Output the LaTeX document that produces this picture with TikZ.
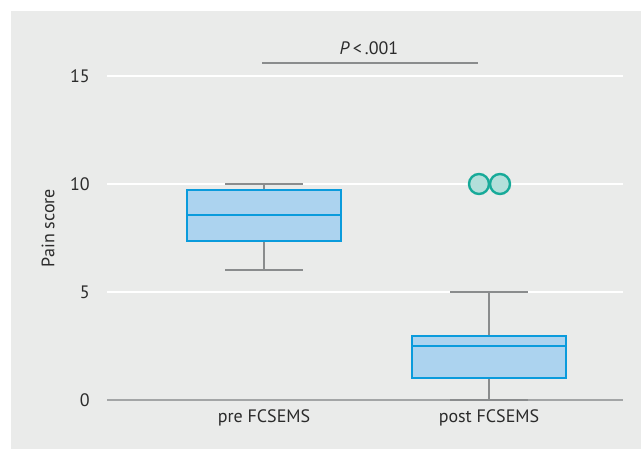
\documentclass[tikz,border=0pt]{standalone}
\usepackage{fontspec}
\setmainfont{PT Sans}
\definecolor{bggray}{HTML}{EAEBEA}
\definecolor{boxblue}{HTML}{0A9BDC}
\definecolor{boxfill}{HTML}{ACD3EF}
\definecolor{whiskgray}{HTML}{8A8C8D}
\definecolor{axisgray}{HTML}{A3A5A6}
\definecolor{tealline}{HTML}{17AA99}
\definecolor{tealfill}{HTML}{B3DFDA}
\definecolor{txtgray}{HTML}{2B2B2B}
\begin{document}
\begin{tikzpicture}[x=1pt,y=-1pt,
  gridln/.style={draw=white, line width=2pt},
  zeroln/.style={draw=axisgray, line width=2pt},
  whisk/.style={draw=whiskgray, line width=2.2pt},
  boxst/.style={draw=boxblue, fill=boxfill, line width=2.4pt},
  medst/.style={draw=boxblue, line width=2.8pt},
  outl/.style={draw=tealline, fill=tealfill, line width=2.4pt},
  plinest/.style={draw=whiskgray, line width=2.8pt},
  lab/.style={font=\fontsize{18}{21}\selectfont, text=txtgray, inner sep=0pt}]
\useasboundingbox (0,0) rectangle (641,449);
\fill[bggray] (11,11) rectangle (641,449);
% gridlines
\draw[gridln] (107,76) -- (623,76);
\draw[gridln] (107,184) -- (623,184);
\draw[gridln] (107,292) -- (623,292);
\draw[zeroln] (107,400) -- (623,400);
% tick labels
\node[lab, anchor=east] (t15) at (90,76) {15};
\node[lab, anchor=east] (t10) at (90,184) {10};
\node[lab, anchor=east] (t5) at (90,292) {5};
\node[lab, anchor=east] (t0) at (90,400) {0};
\node[lab, rotate=90] (ylab) at (48,228) {Pain score};
% box 1 (pre)
\draw[whisk] (264,184) -- (264,270);
\draw[whisk] (225,184) -- (303,184);
\draw[whisk] (225,270) -- (303,270);
\draw[boxst] (187,190) rectangle (341,241);
\draw[medst] (187,215) -- (341,215);
% box 2 (post)
\draw[whisk] (489,292) -- (489,400);
\draw[whisk] (450,292) -- (528,292);
\draw[whisk] (450,400) -- (528,400);
\draw[boxst] (412,336) rectangle (566,378);
\draw[medst] (412,346) -- (566,346);
% outliers
\node[outl, circle, minimum size=20pt, inner sep=0pt] (o1) at (479,184) {};
\node[outl, circle, minimum size=20pt, inner sep=0pt] (o2) at (500,184) {};
% significance
\draw[plinest] (262,63) -- (478,63);
\node[lab] (pval) at (369,48) {\textit{P}\,<\,.001};
% x labels
\node[lab] (xpre) at (264,418) {pre FCSEMS};
\node[lab] (xpost) at (489,418) {post FCSEMS};
\end{tikzpicture}
\end{document}
